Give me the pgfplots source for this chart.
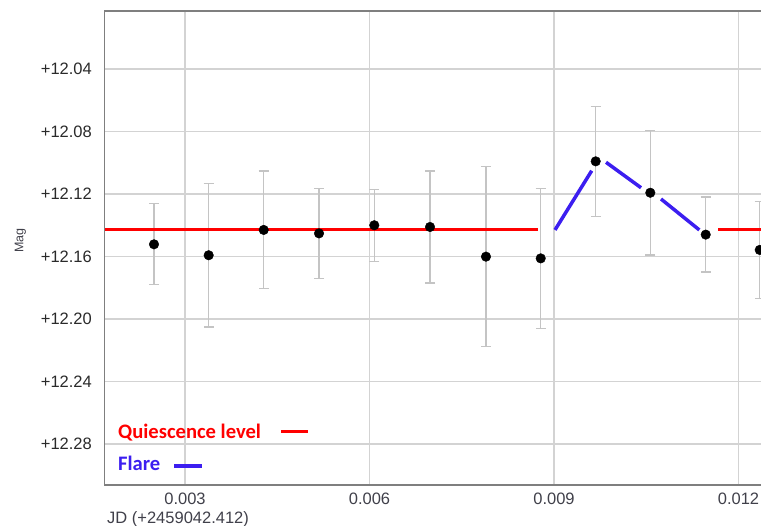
\documentclass[border=0pt]{standalone}
\usepackage{pgfplots}
\pgfplotsset{compat=1.18}
\usepackage{pgfplotstable}
\usepackage{fontspec}
\setmainfont{Liberation Sans}
\newfontfamily\calib{Carlito}
\definecolor{gridgray}{HTML}{D3D3D3}
\definecolor{axgray}{HTML}{7F7F7F}
\definecolor{errgray}{HTML}{C4C4C4}
\definecolor{flareblue}{HTML}{3C1EF0}
\definecolor{ticktext}{HTML}{2A2A2A}
\definecolor{xtext}{HTML}{40404A}

\pgfplotstableread{
x y ey
0.002496 12.1522 0.0259
0.003385 12.1592 0.0460
0.004280 12.1430 0.0377
0.005179 12.1452 0.0288
0.006078 12.1400 0.0231
0.006984 12.1411 0.0359
0.007894 12.1601 0.0577
0.008784 12.1612 0.0449
0.009678 12.0991 0.0352
0.010566 12.1192 0.0398
0.011467 12.1460 0.0240
0.012345 12.1558 0.0312
}\magdata

\begin{document}
\begin{tikzpicture}[x=1bp,y=1bp]
\path[use as bounding box] (0,0) rectangle (761,526);
\begin{axis}[
  at={(104bp,41bp)}, anchor=south west,
  scale only axis, width=657bp, height=474bp,
  xmin=0.001683, xmax=0.012366,
  ymin=12.00288, ymax=12.30624,
  y dir=reverse,
  xtick={0.003,0.006,0.009,0.012},
  xticklabels={0.003,0.006,0.009,0.012},
  ytick={12.04,12.08,12.12,12.16,12.20,12.24,12.28},
  yticklabels={+12.04,+12.08,+12.12,+12.16,+12.20,+12.24,+12.28},
  /pgf/number format/assume math mode=true,
  scaled x ticks=false,
  grid=major,
  major grid style={gridgray, line width=1.3bp},
  major tick length=0pt,
  axis line style={draw=none},
  yticklabel style={anchor=east, inner sep=0pt, xshift=-12bp, font=\fontsize{16.5bp}{19bp}\selectfont, text=ticktext},
  xticklabel style={anchor=north, inner sep=0pt, yshift=-8bp, font=\fontsize{16.5bp}{19bp}\selectfont, text=xtext},
  clip=true,
]
\addplot[only marks, mark=*, mark size=4.8bp, black,
  error bars/.cd, y dir=both, y explicit,
  error bar style={errgray, line width=1.3bp},
  error mark options={rotate=90, errgray, mark size=5bp, line width=1.3bp}]
  table[x=x, y=y, y error=ey] {\magdata};
\addplot[red, line width=3.5bp] coordinates {(0.001683,12.1426) (0.008745,12.1426)};
\addplot[red, line width=3.5bp] coordinates {(0.011667,12.1426) (0.012366,12.1426)};
\addplot[flareblue, line width=3.5bp] coordinates {(0.009016,12.1430) (0.009613,12.1051)};
\addplot[flareblue, line width=3.5bp] coordinates {(0.009846,12.0997) (0.010415,12.1160)};
\addplot[flareblue, line width=3.5bp] coordinates {(0.010740,12.1232) (0.011363,12.1430)};
\draw[axgray, line width=2bp] (rel axis cs:1.01,0) -- (rel axis cs:0,0) -- (rel axis cs:0,1) -- (rel axis cs:1.01,1);
\end{axis}
% axis titles
\node[anchor=north west, inner sep=0pt, font=\fontsize{16.5bp}{19bp}\selectfont, text=xtext] at (107,14.3) {JD (+2459042.412)};
\node[rotate=90, inner sep=0pt, font=\fontsize{12.5bp}{15bp}\selectfont, text=xtext] at (20.3,285.5) {Mag};
% legend
\node[anchor=base west, inner sep=0pt, font=\calib\bfseries\fontsize{20.6bp}{24bp}\selectfont, text=red] at (118,87.3) {Quiescence level};
\draw[red, line width=3.5bp] (281,94.3) -- (308,94.3);
\node[anchor=base west, inner sep=0pt, font=\calib\bfseries\fontsize{20.6bp}{24bp}\selectfont, text=flareblue] at (118,55) {Flare};
\draw[flareblue, line width=3.5bp] (174,60) -- (202,60);
\end{tikzpicture}
\end{document}
